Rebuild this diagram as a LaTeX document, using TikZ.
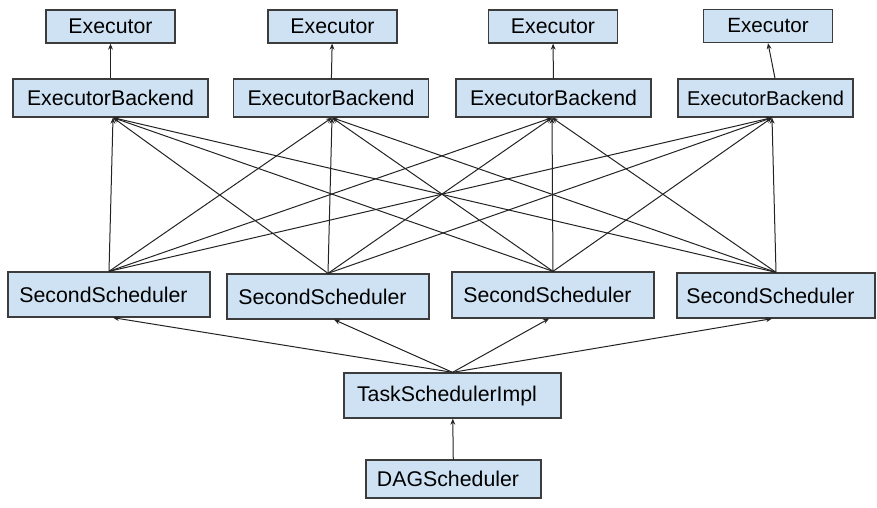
\documentclass[tikz,border=0pt]{standalone}
\usepackage{xcolor}
\usepackage{fontspec}
\setmainfont{Liberation Sans}
\usetikzlibrary{arrows.meta}
\definecolor{boxblue}{RGB}{207, 226, 243}
\definecolor{boxline}{RGB}{60, 60, 60}
\definecolor{wire}{RGB}{35, 35, 35}

\tikzset{
  box/.style={draw=boxline, line width=0.65pt, fill=boxblue, inner sep=0pt, font=\fontsize{10.65}{12}\selectfont},
  leftish/.style={execute at begin node={\hspace*{-5.5pt}}},
  execbox/.style={box, minimum width=64.5pt, minimum height=16.5pt},
  backbox/.style={box, minimum width=97.5pt, minimum height=19pt},
  secbox/.style={box, leftish, minimum width=101pt, minimum height=22.5pt},
  arr/.style={draw=wire, line width=0.5pt, -{Stealth[length=3pt,width=2.4pt]}}
}

\begin{document}
\begin{tikzpicture}[x=0.5pt, y=-0.5pt]
\useasboundingbox (0,0) rectangle (877,508);

% executors
\node[execbox] (exec1) at (110.5,26.5) {Executor};
\node[execbox] (exec2) at (332.5,26.5) {Executor};
\node[execbox] (exec3) at (553,26.5) {Executor};
\node[execbox, font=\fontsize{10.3}{12}\selectfont] (exec4) at (768,26) {Executor};

% backends
\node[backbox] (backend1) at (110.5,98) {ExecutorBackend};
\node[backbox] (backend2) at (331,98) {ExecutorBackend};
\node[backbox] (backend3) at (553.5,98) {ExecutorBackend};
\node[backbox, minimum width=87.5pt, font=\fontsize{10}{12}\selectfont] (backend4) at (765.5,98) {ExecutorBackend};

% second level schedulers
\node[secbox] (second1) at (109,294.5) {SecondScheduler};
\node[secbox] (second2) at (328,296.5) {SecondScheduler};
\node[secbox, minimum height=23pt] (second3) at (553,295) {SecondScheduler};
\node[secbox, minimum width=99pt] (second4) at (776,295.5) {SecondScheduler};

\node[secbox, minimum width=108.5pt] (tsi) at (452.5,395.5) {TaskSchedulerImpl};
\node[backbox, leftish, minimum width=87.5pt] (dag) at (453.5,479) {DAGScheduler};

% where the lines meet the boxes
\foreach \i/\dx in {1/1.25,2/0.5,3/-0.75,4/3.25}
  \coordinate (bin\i) at ([xshift=\dx pt]backend\i.south);
\foreach \i/\dx in {1/2,2/3,3/-2,4/-2}
  \coordinate (sin\i) at ([xshift=\dx pt]second\i.south);
\coordinate (bout4) at ([xshift=4.75pt]backend4.north);

% arrows
\draw[arr] (backend1) -- (exec1);
\draw[arr] (backend2) -- (exec2);
\draw[arr] (backend3) -- (exec3);
\draw[arr] (bout4) -- (exec4.south);

\foreach \s in {1,...,4}
  \foreach \b in {1,...,4}
    \draw[arr] (second\s.north) -- (bin\b);

\foreach \s in {1,...,4}
  \draw[arr] (tsi.north) -- (sin\s);

\draw[arr] (dag) -- (tsi);
\end{tikzpicture}
\end{document}
